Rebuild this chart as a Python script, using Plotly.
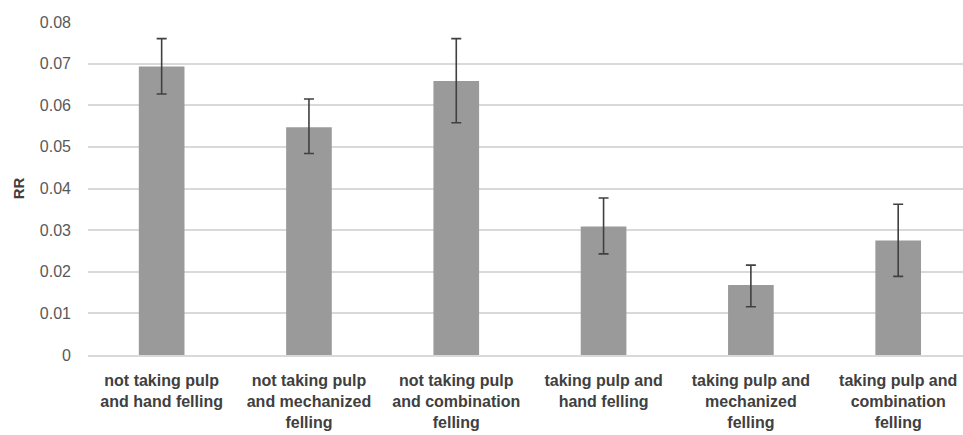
import plotly.graph_objects as go

categories = [
    "not taking pulp<br>and hand felling",
    "not taking pulp<br>and mechanized<br>felling",
    "not taking pulp<br>and combination<br>felling",
    "taking pulp and<br>hand felling",
    "taking pulp and<br>mechanized<br>felling",
    "taking pulp and<br>combination<br>felling",
]
rr_values = [0.0693, 0.0547, 0.0658, 0.0309, 0.0168, 0.0275]
err_upper = [0.0760, 0.0615, 0.0760, 0.0377, 0.0216, 0.0362]
err_lower = [0.0627, 0.0484, 0.0558, 0.0243, 0.0116, 0.0189]
y_ticks = [0, 0.01, 0.02, 0.03, 0.04, 0.05, 0.06, 0.07, 0.08]
y_tick_labels = ["0", "0.01", "0.02", "0.03", "0.04", "0.05", "0.06", "0.07", "0.08"]

plus = [u - v for u, v in zip(err_upper, rr_values)]
minus = [v - l for v, l in zip(rr_values, err_lower)]
xs = list(range(len(categories)))

fig = go.Figure()
fig.add_trace(go.Bar(
    x=xs, y=rr_values, width=0.31,
    marker=dict(color="#9a9a9a", line=dict(width=0)),
    error_y=dict(type="data", symmetric=False, array=plus, arrayminus=minus,
                 color="#404040", thickness=1.6, width=5),
))

fig.update_layout(
    width=963, height=435,
    margin=dict(l=88, r=0, t=22, b=80, autoexpand=False),
    plot_bgcolor="white", paper_bgcolor="white",
    showlegend=False,
    font=dict(family="Liberation Sans, Arial, sans-serif", color="#595959"),
    xaxis=dict(
        range=[-0.5, 5.44],
        tickmode="array", tickvals=xs,
        ticktext=["<b>" + c + "</b>" for c in categories],
        tickfont=dict(size=16, color="#404040"),
        showgrid=False, zeroline=False,
        showline=True, linecolor="#d9d9d9", linewidth=1.5,
        ticks="", ticklen=0, ticklabelstandoff=10,
        automargin=False,
    ),
    yaxis=dict(
        range=[0, 0.08],
        tickmode="array", tickvals=y_ticks, ticktext=y_tick_labels,
        tickfont=dict(size=16, color="#595959"),
        showgrid=True, gridcolor="#d9d9d9", gridwidth=1.5,
        zeroline=False, ticks="", ticklabelstandoff=16,
        automargin=False,
        title=dict(text="<b>RR</b>", font=dict(size=15, color="#404040"), standoff=11),
    ),
)

fig.write_html("out.html", config={"displayModeBar": False},
               post_script="document.body.style.margin='0px';")
